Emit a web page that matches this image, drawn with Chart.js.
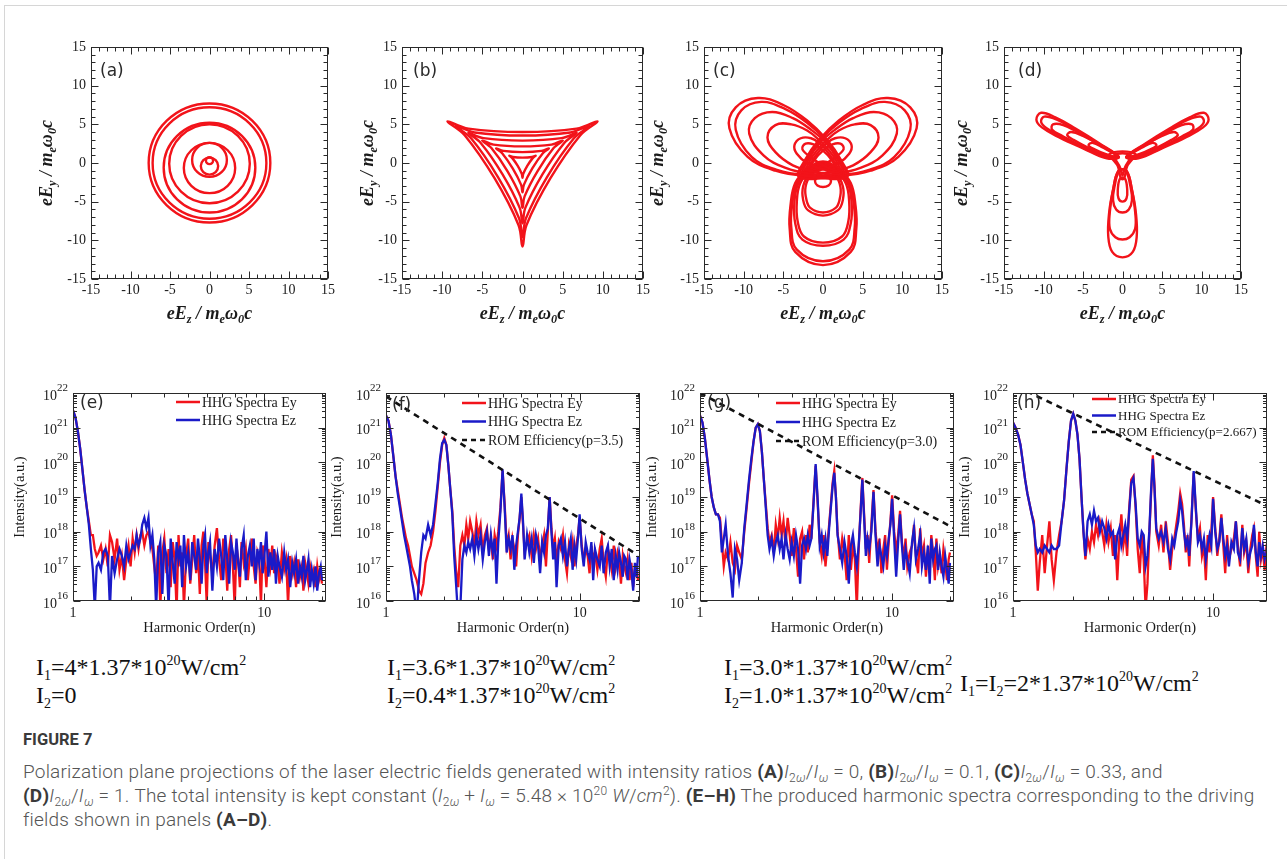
<!DOCTYPE html>
<html>
<head>
<meta charset="utf-8">
<script src="https://cdn.jsdelivr.net/npm/chart.js@4/dist/chart.umd.min.js"></script>
<style>
body{margin:0;background:#fff;width:1287px;height:859px;position:relative;overflow:hidden}
.frame{position:absolute;left:4px;top:5px;width:1290px;height:860px;border-left:1px solid #d6d6d6;border-top:1px solid #d6d6d6}
canvas{position:absolute}
.eq{position:absolute;font-family:"Liberation Serif","Times New Roman",serif;font-size:24px;color:#111;white-space:nowrap;line-height:28px}
.eq sub,.eq sup{font-size:14px;vertical-align:baseline;position:relative}
.eq sub{top:5px}
.eq sup{top:-10px}
.fig{position:absolute;left:23px;top:730px;font-family:Roboto,"Open Sans",sans-serif;font-weight:700;font-size:16.5px;color:#3a3a3a}
.cap{position:absolute;left:23px;font-family:Roboto,"Open Sans",sans-serif;font-weight:300;font-size:19px;letter-spacing:0.2px;color:#555;white-space:nowrap;line-height:24px}
.cap i{font-style:italic}
.cap sub{font-size:12px;vertical-align:baseline;position:relative;top:4px}
.cap sup{font-size:12px;vertical-align:baseline;position:relative;top:-7px}
.cap b{color:#3a3a3a;font-weight:700}
</style>
</head>
<body>
<div class="frame"></div>

<div class="eq" style="left:36px;top:653px">I<sub>1</sub>=4*1.37*10<sup>20</sup>W/cm<sup>2</sup></div>
<div class="eq" style="left:36px;top:681px">I<sub>2</sub>=0</div>
<div class="eq" style="left:387px;top:653px">I<sub>1</sub>=3.6*1.37*10<sup>20</sup>W/cm<sup>2</sup></div>
<div class="eq" style="left:387px;top:681px">I<sub>2</sub>=0.4*1.37*10<sup>20</sup>W/cm<sup>2</sup></div>
<div class="eq" style="left:724px;top:653px">I<sub>1</sub>=3.0*1.37*10<sup>20</sup>W/cm<sup>2</sup></div>
<div class="eq" style="left:724px;top:681px">I<sub>2</sub>=1.0*1.37*10<sup>20</sup>W/cm<sup>2</sup></div>
<div class="eq" style="left:960px;top:669px">I<sub>1</sub>=I<sub>2</sub>=2*1.37*10<sup>20</sup>W/cm<sup>2</sup></div>

<div class="fig">FIGURE 7</div>
<div class="cap" style="top:760px">Polarization plane projections of the laser electric fields generated with intensity ratios <b>(A)</b><i>I</i><sub>2<i>ω</i></sub>/<i>I</i><sub><i>ω</i></sub> = 0, <b>(B)</b><i>I</i><sub>2<i>ω</i></sub>/<i>I</i><sub><i>ω</i></sub> = 0.1, <b>(C)</b><i>I</i><sub>2<i>ω</i></sub>/<i>I</i><sub><i>ω</i></sub> = 0.33, and</div>
<div class="cap" style="top:784px"><b>(D)</b><i>I</i><sub>2<i>ω</i></sub>/<i>I</i><sub><i>ω</i></sub> = 1. The total intensity is kept constant (<i>I</i><sub>2<i>ω</i></sub> + <i>I</i><sub><i>ω</i></sub> = 5.48 × 10<sup>20</sup> <i>W</i>/<i>cm</i><sup>2</sup>). <b>(E–H)</b> The produced harmonic spectra corresponding to the driving</div>
<div class="cap" style="top:808px">fields shown in panels <b>(A–D)</b>.</div>

<script>
// tick values
const fieldTicks = [-15, -10, -5, 0, 5, 10, 15]
const orderTicks = [1, 10]
const intensityExp = [16, 17, 18, 19, 20, 21, 22]

// (a) field loops, flat x,y pairs
const loopsA = [
  [0,0.75, -0.32,0.62, -0.45,0.3, -0.32,-0.02, 0,-0.15, 0.32,-0.02, 0.45,0.3, 0.32,0.62],
  [0,0.7, -0.78,0.38, -1.1,-0.4, -0.78,-1.18, 0,-1.5, 0.78,-1.18, 1.1,-0.4, 0.78,0.38],
  [0,2.6, -1.56,1.96, -2.2,0.4, -1.56,-1.16, 0,-1.8, 1.56,-1.16, 2.2,0.4, 1.56,1.96],
  [0,2.6, -2.3,1.65, -3.25,-0.65, -2.3,-2.95, 0,-3.9, 2.3,-2.95, 3.25,-0.65, 2.3,1.65],
  [0,5.0, -3.6,3.5, -5.1,-0.1, -3.6,-3.7, 0,-5.2, 3.6,-3.7, 5.1,-0.1, 3.6,3.5],
  [0,5.2, -4.1,3.5, -5.8,-0.6, -4.1,-4.7, 0,-6.4, 4.1,-4.7, 5.8,-0.6, 4.1,3.5],
  [0,7.2, -5.09,5.09, -7.2,0, -5.09,-5.09, 0,-7.2, 5.09,-5.09, 7.2,0, 5.09,5.09],
  [0,7.7, -5.44,5.44, -7.7,0, -5.44,-5.44, 0,-7.7, 5.44,-5.44, 7.7,0, 5.44,5.44]
]

// (b)
const loopsB = [
  [9.35,5.4, 6.72,4.44, 0,4.0, -6.72,4.44, -9.35,5.4, -7.2,3.6, -3.46,-2.0, -0.49,-8.04, 0,-10.8, 0.49,-8.04, 3.46,-2.0, 7.2,3.6],
  [8.31,4.8, 5.97,3.95, 0,3.55, -5.97,3.95, -8.31,4.8, -6.4,3.2, -3.07,-1.78, -0.43,-7.14, 0,-9.6, 0.43,-7.14, 3.07,-1.78, 6.4,3.2],
  [6.75,3.9, 4.85,3.21, 0,2.89, -4.85,3.21, -6.75,3.9, -5.2,2.6, -2.5,-1.44, -0.35,-5.8, 0,-7.8, 0.35,-5.8, 2.5,-1.44, 5.2,2.6],
  [5.02,2.9, 3.61,2.38, 0,2.15, -3.61,2.38, -5.02,2.9, -3.87,1.93, -1.86,-1.07, -0.26,-4.32, 0,-5.8, 0.26,-4.32, 1.86,-1.07, 3.87,1.93],
  [3.29,1.9, 2.36,1.56, 0,1.41, -2.36,1.56, -3.29,1.9, -2.53,1.27, -1.22,-0.7, -0.17,-2.83, 0,-3.8, 0.17,-2.83, 1.22,-0.7, 2.53,1.27],
  [1.65,0.95, 1.18,0.78, 0,0.7, -1.18,0.78, -1.65,0.95, -1.27,0.63, -0.61,-0.35, -0.09,-1.41, 0,-1.9, 0.09,-1.41, 0.61,-0.35, 1.27,0.63]
]

// (c)
const loopsC = [
  [3.0,-1.8, -2,-1.7, -6,-1.0, -9.5,0.8, -11.8,4.5, -11,7.2, -8.2,8.4, -5,7.5, -2,5.5, 0.5,3.0, 2.2,0.5],
  [2.8,-1.7, -2,-1.6, -5.8,-0.9, -9.0,0.8, -11.0,4.3, -10.3,6.8, -7.8,7.9, -4.8,7.0, -2,5.2, 0.4,2.9, 2.0,0.5],
  [2.5,-1.6, -1.5,-1.4, -4.8,-0.6, -7.5,1.0, -9.3,3.8, -8.6,5.8, -6.4,6.6, -3.8,5.8, -1.5,4.3, 0.4,2.6, 1.8,0.5],
  [2.2,-1.4, -1.2,-1.1, -3.8,-0.3, -6.0,1.4, -7.0,3.3, -6.0,4.9, -4.0,5.0, -2.0,4.2, -0.4,2.9, 0.8,1.6, 1.7,0.2],
  [2.0,-1.2, 0,-0.8, -2.0,0, -3.3,1.2, -3.6,2.3, -2.8,3.2, -1.5,3.2, -0.4,2.5, 0.6,1.4, 1.4,0.2],
  [1.8,-1.0, 0,-0.3, -1.6,0.8, -2.6,1.8, -2.2,2.5, -1.2,2.4, 0,1.6, 1.0,0.5],
  [-3.0,-1.8, 2,-1.7, 6,-1.0, 9.5,0.8, 11.8,4.5, 11,7.2, 8.2,8.4, 5,7.5, 2,5.5, -0.5,3.0, -2.2,0.5],
  [-2.8,-1.7, 2,-1.6, 5.8,-0.9, 9.0,0.8, 11.0,4.3, 10.3,6.8, 7.8,7.9, 4.8,7.0, 2,5.2, -0.4,2.9, -2.0,0.5],
  [-2.5,-1.6, 1.5,-1.4, 4.8,-0.6, 7.5,1.0, 9.3,3.8, 8.6,5.8, 6.4,6.6, 3.8,5.8, 1.5,4.3, -0.4,2.6, -1.8,0.5],
  [-2.2,-1.4, 1.2,-1.1, 3.8,-0.3, 6.0,1.4, 7.0,3.3, 6.0,4.9, 4.0,5.0, 2.0,4.2, 0.4,2.9, -0.8,1.6, -1.7,0.2],
  [-2.0,-1.2, 0,-0.8, 2.0,0, 3.3,1.2, 3.6,2.3, 2.8,3.2, 1.5,3.2, 0.4,2.5, -0.6,1.4, -1.4,0.2],
  [-1.8,-1.0, 0,-0.3, 1.6,0.8, 2.6,1.8, 2.2,2.5, 1.2,2.4, 0,1.6, -1.0,0.5],
  [0,0.2, -2.0,-0.8, -3.5,-2.6, -4.1,-5.5, -4.2,-8.5, -3.5,-11.5, 0,-13.2, 3.5,-11.5, 4.2,-8.5, 4.1,-5.5, 3.5,-2.6, 2.0,-0.8],
  [0,0.0, -1.9,-0.9, -3.3,-2.6, -3.9,-5.5, -4.0,-8.3, -3.3,-11.2, 0,-12.7, 3.3,-11.2, 4.0,-8.3, 3.9,-5.5, 3.3,-2.6, 1.9,-0.9],
  [0,-0.2, -1.8,-1.0, -3.1,-2.6, -3.6,-5.0, -3.5,-7.8, -2.6,-9.9, 0,-10.7, 2.6,-9.9, 3.5,-7.8, 3.6,-5.0, 3.1,-2.6, 1.8,-1.0],
  [0,-0.4, -1.7,-1.1, -2.9,-2.7, -3.3,-5.0, -3.2,-7.5, -2.4,-9.5, 0,-10.3, 2.4,-9.5, 3.2,-7.5, 3.3,-5.0, 2.9,-2.7, 1.7,-1.1],
  [0,-0.6, -1.6,-1.3, -2.5,-3.0, -2.5,-4.8, -1.9,-6.1, 0,-6.8, 1.9,-6.1, 2.5,-4.8, 2.5,-3.0, 1.6,-1.3],
  [0,-0.8, -1.5,-1.5, -2.2,-3.1, -2.1,-4.7, -1.6,-5.8, 0,-6.4, 1.6,-5.8, 2.1,-4.7, 2.2,-3.1, 1.5,-1.5],
  [0,-1.3, -0.8,-1.8, -1.0,-2.4, -0.7,-2.9, 0,-3.1, 0.7,-2.9, 1.0,-2.4, 0.8,-1.8]
]

// (d)
const loopsD = [
  [-0.5,0.8, -3,2.6, -6,4.5, -8.5,5.9, -10.3,6.5, -10.9,5.6, -10.2,4.6, -8,3.3, -5,1.9, -2,0.6],
  [-0.5,0.8, -3,2.5, -6,4.3, -8.3,5.6, -9.9,6.0, -10.3,5.3, -9.6,4.5, -7.5,3.3, -4.8,1.9, -2,0.7],
  [-0.5,0.8, -3,2.4, -5.5,3.9, -7.5,4.9, -8.8,5.0, -8.9,4.3, -7.6,3.5, -5,2.1, -2,0.8],
  [-0.5,0.8, -2.8,2.3, -5.0,3.5, -6.5,4.0, -7.0,3.6, -6.2,3.0, -4.2,1.9, -2,0.9],
  [-0.5,0.8, -2.5,2.0, -3.8,2.6, -4.3,2.3, -3.6,1.8, -2,1.1],
  [0.5,0.8, 3,2.6, 6,4.5, 8.5,5.9, 10.3,6.5, 10.9,5.6, 10.2,4.6, 8,3.3, 5,1.9, 2,0.6],
  [0.5,0.8, 3,2.5, 6,4.3, 8.3,5.6, 9.9,6.0, 10.3,5.3, 9.6,4.5, 7.5,3.3, 4.8,1.9, 2,0.7],
  [0.5,0.8, 3,2.4, 5.5,3.9, 7.5,4.9, 8.8,5.0, 8.9,4.3, 7.6,3.5, 5,2.1, 2,0.8],
  [0.5,0.8, 2.8,2.3, 5.0,3.5, 6.5,4.0, 7.0,3.6, 6.2,3.0, 4.2,1.9, 2,0.9],
  [0.5,0.8, 2.5,2.0, 3.8,2.6, 4.3,2.3, 3.6,1.8, 2,1.1],
  [0.5,-1, 1.2,-3.5, 1.7,-6.5, 1.8,-9.5, 1.3,-11.5, 0,-12.2, -1.3,-11.5, -1.8,-9.5, -1.7,-6.5, -1.2,-3.5, -0.5,-1],
  [0.5,-1, 1.2,-3.5, 1.6,-6.3, 1.6,-8.5, 0.9,-9.6, 0,-9.9, -0.9,-9.6, -1.6,-8.5, -1.6,-6.3, -1.2,-3.5, -0.5,-1],
  [0.4,-1, 1.0,-3.0, 1.2,-4.8, 0.8,-6.0, 0,-6.4, -0.8,-6.0, -1.2,-4.8, -1.0,-3.0, -0.4,-1],
  [0.3,-2, 0.6,-3.5, 0.5,-4.6, 0,-5.0, -0.5,-4.6, -0.6,-3.5, -0.3,-2],
  [-1.6,1.2, 1.6,1.2, 0.6,-0.4, 0.2,-2.0, -0.2,-2.0, -0.6,-0.4],
  [-1.0,1.0, 1.0,1.0, 0.3,-0.6, 0,-1.6, -0.3,-0.6]
]

// harmonic order grid shared by all spectra
const orders = [
  1.0,1.03,1.06,1.09,1.12,1.15,1.18,1.21,1.24,1.27,
  1.3,1.33,1.36,1.4,1.44,1.48,1.52,1.56,1.6,1.65,
  1.7,1.75,1.8,1.85,1.9,1.95,2.0,2.05,2.1,2.15,
  2.2,2.25,2.3,2.36,2.42,2.48,2.54,2.6,2.66,2.72,
  2.79,2.86,2.93,3.0,3.08,3.16,3.24,3.32,3.4,3.48,
  3.56,3.64,3.72,3.8,3.9,4.0,4.1,4.2,4.3,4.4,
  4.5,4.6,4.7,4.8,4.9,5.0,5.1,5.2,5.35,5.5,
  5.65,5.8,5.95,6.1,6.25,6.4,6.55,6.7,6.85,7.0,
  7.15,7.3,7.45,7.6,7.8,8.0,8.2,8.4,8.6,8.8,
  9.0,9.2,9.4,9.6,9.8,10.0,10.25,10.5,10.75,11.0,
  11.25,11.5,11.75,12.0,12.35,12.7,13.0,13.3,13.65,14.0,
  14.3,14.65,15.0,15.35,15.7,16.0,16.35,16.7,17.0,17.35,
  17.7,18.1,18.5,18.9,19.3,19.7,20.0
]

// log10 of intensity, one value per order
const eEy = [
  21.5,21.3,20.9,20.4,19.8,19.2,18.7,18.3,17.9,17.9,
  17.5,17.3,17.4,17.6,17.2,17.5,17.0,17.9,17.7,17.2,
  17.8,16.9,17.3,16.6,17.2,17.6,17.0,17.8,17.4,17.9,
  17.5,17.9,18.0,17.6,17.9,18.0,17.7,17.5,17.0,16.5,
  17.6,15.8,17.4,17.8,16.8,17.5,16.4,17.7,17.2,15.7,
  17.9,17.0,17.4,15.8,17.3,17.8,16.5,17.2,17.9,16.8,
  17.4,16.2,17.6,18.0,17.1,15.9,17.7,17.3,16.8,17.6,
  18.1,17.2,16.6,17.8,17.4,16.3,17.5,17.9,17.0,15.8,
  17.6,17.2,16.4,17.7,17.1,17.5,16.6,17.3,17.8,17.0,
  16.5,17.4,17.2,15.9,17.6,17.3,16.4,17.5,17.0,17.6,
  16.8,17.3,17.1,16.5,17.4,16.9,17.2,15.9,17.3,16.8,
  17.1,16.4,17.2,16.7,17.0,16.3,17.1,16.8,16.5,17.0,
  16.7,16.9,16.4,17.0,16.6,16.8,16.5
]
const eEz = [
  21.5,21.3,20.9,20.4,19.8,19.2,18.7,18.2,17.5,16.9,
  15.8,17.0,17.1,16.9,17.4,17.5,17.3,15.8,17.3,16.8,
  17.2,17.5,17.3,17.0,17.6,17.2,17.4,17.6,17.5,17.9,
  17.6,17.8,18.2,18.4,18.1,18.4,17.6,17.9,17.2,15.8,
  17.4,17.7,16.2,17.6,17.3,15.8,17.8,17.1,16.5,17.7,
  17.2,17.6,16.4,17.9,17.0,17.4,16.6,17.7,17.3,16.9,
  17.8,17.2,16.5,17.6,17.9,16.8,17.4,17.7,16.3,17.5,
  17.0,17.8,17.3,16.6,17.9,17.2,16.5,17.7,17.4,16.9,
  17.8,17.1,16.7,17.5,17.9,16.6,17.3,17.6,17.0,17.8,
  16.6,17.5,17.1,17.7,16.8,17.3,18.0,16.7,17.4,16.9,
  17.5,16.5,17.3,17.0,16.7,17.4,16.9,17.2,16.4,17.1,
  16.8,17.2,16.5,17.0,16.7,17.3,16.6,16.9,17.2,16.4,
  16.9,16.5,17.0,16.3,16.8,17.0,16.6
]
const fEy = [
  21.35,21.2,20.8,20.2,19.6,19.2,18.8,18.4,18.1,17.8,
  17.6,17.3,17.0,16.8,16.6,16.3,16.2,16.5,17.1,17.4,
  17.6,18.0,18.6,19.3,20.0,20.5,20.7,20.5,19.9,19.2,
  18.6,17.6,16.9,16.4,17.6,17.9,17.6,18.2,17.8,18.3,
  18.0,17.6,18.3,17.9,18.2,17.4,17.9,18.1,17.5,17.8,
  17.2,17.9,17.6,18.0,18.7,19.75,18.8,17.6,17.9,17.2,
  17.8,17.5,17.0,17.9,18.4,19.0,18.2,17.4,17.7,17.9,
  17.3,17.9,17.5,17.8,17.2,17.6,17.9,17.0,18.0,19.0,
  18.1,17.5,17.8,17.1,17.7,17.5,17.9,17.2,16.8,17.6,
  17.3,17.7,17.0,17.6,17.9,18.4,17.6,17.2,17.5,17.3,
  16.8,17.6,17.2,17.4,16.9,17.5,17.8,17.1,16.7,17.5,
  17.3,16.9,17.6,17.0,17.4,17.2,16.5,17.3,17.0,16.8,
  17.2,16.6,17.1,16.4,16.9,17.0,16.6
]
const fEz = [
  21.35,21.2,20.8,20.2,19.6,19.1,18.7,18.3,17.9,17.6,
  17.3,17.0,16.6,16.2,15.6,16.6,17.4,17.9,17.8,18.2,
  17.9,18.2,18.8,19.4,20.1,20.55,20.65,20.5,19.9,19.2,
  18.5,17.3,16.5,15.5,15.8,17.2,17.6,17.4,17.7,17.5,
  17.8,17.3,17.9,17.5,17.9,17.2,17.7,18.0,17.3,17.9,
  17.4,17.8,16.5,17.7,18.6,19.8,18.7,17.4,17.8,17.5,
  17.9,16.9,17.6,18.0,18.4,19.1,18.3,17.2,17.9,17.4,
  17.8,17.1,17.9,17.6,16.8,17.7,17.4,17.9,18.1,19.0,
  18.0,17.2,17.7,16.4,17.6,17.8,17.3,17.7,17.0,17.5,
  17.8,16.9,17.6,17.2,17.8,18.5,17.5,17.0,17.7,17.4,
  17.2,17.7,16.6,17.5,17.2,17.0,17.6,16.8,17.4,17.6,
  17.0,17.5,16.6,17.3,16.9,17.4,17.1,16.7,17.3,17.2,
  16.6,17.2,16.9,16.3,17.1,16.7,17.3
]
const gEy = [
  21.35,21.15,20.7,20.1,19.5,19.0,18.7,18.5,18.5,18.4,
  17.7,17.0,17.4,17.2,17.7,17.1,16.9,17.6,17.4,17.2,
  18.0,18.7,19.4,20.0,20.6,21.0,21.1,20.9,20.3,19.5,
  18.8,18.1,17.7,17.9,17.4,18.2,17.8,18.4,17.9,18.3,
  17.6,18.4,17.9,17.3,18.1,17.5,16.7,17.8,18.0,17.2,
  17.9,17.4,18.2,17.8,18.9,19.9,18.8,17.7,17.3,17.9,
  17.0,17.6,18.2,18.8,19.4,19.75,19.0,18.0,17.2,17.8,
  17.4,16.6,17.9,16.9,17.6,17.2,15.8,17.5,18.6,19.55,
  18.5,17.5,17.9,17.1,18.2,19.2,18.0,17.4,17.8,16.8,
  17.5,17.9,16.9,17.7,18.3,19.05,18.0,17.4,17.9,18.6,
  17.7,17.2,17.8,17.0,17.4,17.6,18.2,17.3,16.8,18.1,
  17.3,17.6,16.7,17.4,17.1,17.9,17.4,16.6,17.8,17.0,
  17.3,16.8,17.5,17.1,16.6,17.2,17.4
]
const gEz = [
  21.35,21.15,20.7,20.1,19.5,19.0,18.7,18.5,18.5,18.3,
  17.4,17.8,18.2,17.3,16.8,16.1,17.5,17.2,16.6,17.1,
  18.1,18.8,19.5,20.1,20.6,21.0,21.1,20.9,20.3,19.5,
  18.7,17.9,17.5,17.8,17.3,17.7,17.9,17.5,17.8,17.2,
  17.9,17.5,17.2,17.7,17.3,17.9,17.5,16.5,17.6,17.8,
  17.5,17.9,17.6,17.8,18.8,19.95,18.9,17.6,17.9,17.4,
  17.8,17.3,18.1,18.7,19.3,19.7,19.0,17.9,17.5,17.1,
  17.7,17.3,16.5,17.6,17.9,17.4,17.0,17.6,18.5,19.5,
  18.4,17.3,17.8,17.5,18.0,19.15,17.9,17.0,17.6,17.3,
  17.0,17.6,17.3,17.8,18.2,18.95,17.8,16.7,17.7,18.5,
  17.6,16.9,17.5,17.2,16.8,17.7,18.1,17.2,17.5,17.9,
  17.0,17.4,16.9,17.6,16.5,17.8,17.2,17.5,17.6,16.9,
  17.4,17.0,16.7,17.3,16.9,16.5,17.1
]
const hEy = [
  21.15,21.0,20.8,20.5,20.0,19.5,19.1,18.8,18.5,18.3,
  17.4,16.3,17.1,17.9,16.8,17.6,18.3,17.2,16.6,17.4,
  17.9,18.3,18.9,19.8,20.6,21.2,21.4,21.2,20.8,20.1,
  19.0,18.0,17.2,17.8,17.5,18.0,17.7,18.2,17.9,18.3,
  18.0,17.6,18.2,17.7,18.1,17.3,17.9,16.6,17.8,18.5,
  17.6,18.0,17.3,18.6,19.5,19.6,18.7,17.5,16.8,17.9,
  17.2,15.8,16.5,17.9,19.1,20.2,19.3,18.0,17.6,18.2,
  17.4,18.3,17.7,16.9,17.5,17.8,18.2,18.6,19.1,18.8,
  18.2,17.4,17.9,17.0,18.4,19.7,18.6,17.8,18.1,17.3,
  17.6,16.6,17.9,17.4,18.0,19.0,18.1,17.3,17.8,18.5,
  17.6,16.8,17.9,17.2,17.5,17.8,18.3,17.6,17.0,18.2,
  17.4,17.7,16.8,17.5,17.9,18.1,17.3,16.7,18.0,17.2,
  17.5,16.9,17.6,17.8,16.7,17.4,17.2
]
const hEz = [
  21.15,21.0,20.8,20.5,20.0,19.5,19.1,18.8,18.5,18.2,
  17.6,17.4,17.5,17.4,17.6,17.5,17.4,17.6,17.5,17.5,
  17.6,18.3,18.9,19.8,20.6,21.2,21.4,21.2,20.8,20.1,
  19.0,18.0,17.3,18.3,18.5,18.2,18.6,18.3,18.4,18.0,
  18.3,18.1,17.8,18.2,17.9,18.0,17.2,17.9,18.1,17.6,
  17.9,18.2,17.8,18.5,19.4,19.55,18.8,17.8,17.6,18.0,
  17.9,17.0,17.3,18.0,19.2,20.1,19.2,18.1,17.8,18.0,
  17.7,18.1,17.5,17.2,17.8,17.6,18.0,18.3,18.9,18.6,
  18.0,17.6,17.8,17.3,18.3,19.75,18.7,17.7,17.9,17.5,
  17.8,17.2,17.6,17.9,17.6,18.95,18.0,17.5,17.7,18.4,
  17.8,17.3,17.6,17.0,17.7,17.5,18.3,17.4,17.2,18.1,
  17.5,17.8,17.1,17.4,17.6,18.2,17.4,17.0,17.7,17.3,
  17.6,17.2,17.4,17.9,16.9,17.5,17.0
]

// ROM efficiency lines: [n1, log I1, n2, log I2]
const romF = [1, 21.9, 19, 17.4]
const romG = [1, 22.0, 21, 18.1]
const romH = [1.17, 22.05, 18.5, 18.75]

const RED = '#f2131a'
const BLUE = '#1a1ac8'
const decorCfg = {}

function place(id, plot, pad) {
  const c = document.createElement('canvas')
  c.id = id
  const w = plot[2] - plot[0] + pad[0] + pad[2]
  const h = plot[3] - plot[1] + pad[1] + pad[3]
  c.width = w
  c.height = h
  c.style.left = (plot[0] - pad[0]) + 'px'
  c.style.top = (plot[1] - pad[1]) + 'px'
  c.style.width = w + 'px'
  c.style.height = h + 'px'
  document.body.appendChild(c)
  return c
}

function baseOptions(pad, xs, ys) {
  return {
    responsive: false,
    animation: false,
    events: [],
    layout: {padding: {left: pad[0], top: pad[1], right: pad[2], bottom: pad[3]}},
    scales: {x: Object.assign({display: false}, xs), y: Object.assign({display: false}, ys)},
    plugins: {legend: {display: false}, tooltip: {enabled: false}}
  }
}

// closed loop: lead-in and lead-out points keep the spline smooth at the seam,
// the two outer segments are left transparent
function loopPoints(flat) {
  const pts = []
  for (let i = 0; i < flat.length; i += 2) pts.push({x: flat[i], y: flat[i + 1]})
  return [pts[pts.length - 1]].concat(pts, [pts[0], pts[1]])
}

function specPoints(ys) {
  return orders.map((n, i) => ({x: n, y: Math.pow(10, ys[i])}))
}

function drawRich(ctx, parts, x, y, size, style) {
  let w = 0
  const fonts = parts.map(p => style + ' ' + (p[1] ? size * 0.68 : size) + 'px "Liberation Serif"')
  parts.forEach((p, i) => { ctx.font = fonts[i]; w += ctx.measureText(p[0]).width })
  let cx = x - w / 2
  ctx.textAlign = 'left'
  parts.forEach((p, i) => {
    ctx.font = fonts[i]
    const dy = p[1] === 1 ? size * 0.32 : (p[1] === 2 ? -size * 0.4 : 0)
    ctx.fillText(p[0], cx, y + dy)
    cx += ctx.measureText(p[0]).width
  })
}

const decor = {
  id: 'decor',
  afterDraw(chart) {
    const o = decorCfg[chart.canvas.id]
    if (!o) return
    const ctx = chart.ctx, a = chart.chartArea, sx = chart.scales.x, sy = chart.scales.y
    const L = Math.round(a.left) + 0.5, R = Math.round(a.right) - 0.5
    const T = Math.round(a.top) + 0.5, B = Math.round(a.bottom) - 0.5
    ctx.save()
    ctx.strokeStyle = '#2a2a2a'
    ctx.lineWidth = 1
    ctx.setLineDash([])
    ctx.strokeRect(L, T, R - L, B - T)
    ctx.beginPath()
    const tx = (v, len) => { const p = Math.round(sx.getPixelForValue(v)) + 0.5; ctx.moveTo(p, B); ctx.lineTo(p, B - len); ctx.moveTo(p, T); ctx.lineTo(p, T + len) }
    const ty = (v, len) => { const p = Math.round(sy.getPixelForValue(v)) + 0.5; ctx.moveTo(L, p); ctx.lineTo(L + len, p); ctx.moveTo(R, p); ctx.lineTo(R - len, p) }
    let xMajor, yMajor
    if (o.kind === 'field') {
      xMajor = fieldTicks
      yMajor = fieldTicks
      for (let v = -14; v <= 14; v++) {
        if (v % 5 !== 0) { tx(v, 4); ty(v, 4) }
      }
    } else {
      xMajor = orderTicks
      yMajor = intensityExp.map(e => Math.pow(10, e))
      for (let k = 2; k <= 20; k++) {
        if (k !== 10 && (k < 10 || k === 20) && k <= sx.max) tx(k, 4)
      }
      for (let e = 16; e < 22; e++) {
        for (let k = 2; k <= 9; k++) ty(k * Math.pow(10, e), 3.5)
      }
    }
    xMajor.forEach(v => tx(v, 7))
    yMajor.forEach(v => ty(v, 7))
    ctx.stroke()

    ctx.fillStyle = '#1a1a1a'
    ctx.textBaseline = 'middle'
    if (o.kind === 'field') {
      ctx.font = '14px "Liberation Serif"'
      ctx.textAlign = 'center'
      xMajor.forEach(v => ctx.fillText(String(v), sx.getPixelForValue(v), a.bottom + 11))
      ctx.textAlign = 'right'
      yMajor.forEach(v => ctx.fillText(String(v), a.left - 5, sy.getPixelForValue(v)))
      const cxm = (a.left + a.right) / 2
      drawRich(ctx, [['eE', 0], ['z', 1], [' / m', 0], ['e', 1], ['ω', 0], ['0', 1], ['c', 0]], cxm, a.bottom + 35, 18, 'italic bold')
      ctx.save()
      ctx.translate(a.left - o.yGap, (a.top + a.bottom) / 2)
      ctx.rotate(-Math.PI / 2)
      drawRich(ctx, [['eE', 0], ['y', 1], [' / m', 0], ['e', 1], ['ω', 0], ['0', 1], ['c', 0]], 0, 0, 18, 'italic bold')
      ctx.restore()
    } else {
      ctx.font = '14px "Liberation Serif"'
      ctx.textAlign = 'center'
      xMajor.forEach(v => ctx.fillText(String(v), sx.getPixelForValue(v), a.bottom + 12))
      intensityExp.forEach(e => {
        const p = sy.getPixelForValue(Math.pow(10, e))
        ctx.textAlign = 'right'
        ctx.font = '11px "Liberation Serif"'
        const ew = ctx.measureText(String(e)).width
        ctx.fillText(String(e), a.left - 5, p - 5)
        ctx.font = '14px "Liberation Serif"'
        ctx.fillText('10', a.left - 5 - ew, p + 3)
      })
      ctx.textAlign = 'center'
      ctx.font = '14.5px "Liberation Serif"'
      ctx.fillText('Harmonic Order(n)', (a.left + a.right) / 2, a.bottom + 27)
      ctx.save()
      ctx.translate(a.left - o.yGap, (a.top + a.bottom) / 2)
      ctx.rotate(-Math.PI / 2)
      ctx.fillText('Intensity(a.u.)', 0, 0)
      ctx.restore()
      // legend
      ctx.textAlign = 'left'
      ctx.font = o.legendSize + 'px "Liberation Serif"'
      o.legend.forEach((item, i) => {
        const y = a.top + o.legendTop + i * o.legendStep
        const x = a.right - o.legendX
        ctx.strokeStyle = item[1]
        ctx.lineWidth = 2.5
        ctx.setLineDash(item[2] ? [5, 4] : [])
        ctx.beginPath()
        ctx.moveTo(x - 26, y)
        ctx.lineTo(x - 2, y)
        ctx.stroke()
        ctx.fillStyle = '#1a1a1a'
        ctx.fillText(item[0], x, y + 1)
      })
      ctx.setLineDash([])
    }
    // panel label
    ctx.fillStyle = '#2a2a2a'
    ctx.textAlign = 'left'
    ctx.font = '17px "DejaVu Sans"'
    ctx.fillText(o.label, a.left + o.labelPos[0], a.top + o.labelPos[1])
    ctx.restore()
  }
}
Chart.register(decor)

function fieldPanel(id, plot, loops, cfg) {
  const pad = [80, 14, 14, 50]
  const c = place(id, plot, pad)
  decorCfg[id] = Object.assign({kind: 'field'}, cfg)
  new Chart(c, {
    type: 'line',
    data: {
      datasets: loops.map(l => {
        const pts = loopPoints(l)
        const last = pts.length - 2
        return {
          data: pts, borderColor: RED, borderWidth: 2.4,
          pointRadius: 0, tension: 0.4, fill: false,
          segment: {borderColor: s => (s.p0DataIndex === 0 || s.p0DataIndex === last) ? 'rgba(0,0,0,0)' : undefined}
        }
      })
    },
    options: baseOptions(pad, {type: 'linear', min: -15, max: 15}, {type: 'linear', min: -15, max: 15})
  })
}

function specPanel(id, plot, ey, ez, rom, xmax, cfg) {
  const pad = [70, 14, 14, 42]
  const c = place(id, plot, pad)
  decorCfg[id] = Object.assign({kind: 'spec'}, cfg)
  const datasets = []
  if (rom) {
    datasets.push({
      data: [{x: rom[0], y: Math.pow(10, rom[1])}, {x: rom[2], y: Math.pow(10, rom[3])}],
      borderColor: '#111', borderWidth: 2.6, borderDash: [6, 5], pointRadius: 0, fill: false
    })
  }
  datasets.push({data: specPoints(ez), borderColor: BLUE, borderWidth: 2.3, pointRadius: 0, fill: false})
  datasets.push({data: specPoints(ey), borderColor: RED, borderWidth: 2.3, pointRadius: 0, fill: false})
  new Chart(c, {
    type: 'line',
    data: {datasets},
    options: baseOptions(pad, {type: 'logarithmic', min: 1, max: xmax}, {type: 'logarithmic', min: 1e16, max: 1e22})
  })
}

fieldPanel('pa', [91, 47, 328, 279], loopsA, {label: '(a)', labelPos: [9, 25], yGap: 44})
fieldPanel('pb', [402, 47, 643, 279], loopsB, {label: '(b)', labelPos: [11, 25], yGap: 34})
fieldPanel('pc', [704, 47, 942, 279], loopsC, {label: '(c)', labelPos: [9, 25], yGap: 46})
fieldPanel('pd', [1004, 47, 1241, 279], loopsD, {label: '(d)', labelPos: [14, 25], yGap: 42})

const legendTwo = [['HHG Spectra Ey', RED, false], ['HHG Spectra Ez', BLUE, false]]
specPanel('pe', [73, 393, 326, 601], eEy, eEz, null, 21,
  {label: '(e)', labelPos: [7, 11], yGap: 53, legend: legendTwo, legendX: 124, legendTop: 9, legendStep: 18, legendSize: 14})
specPanel('pf', [386, 393, 640, 601], fEy, fEz, romF, 20.5,
  {label: '(f)', labelPos: [6, 13], yGap: 49, legend: legendTwo.concat([['ROM Efficiency(p=3.5)', '#111', true]]), legendX: 152, legendTop: 10, legendStep: 18.5, legendSize: 14})
specPanel('pg', [700, 393, 954, 601], gEy, gEz, romG, 21,
  {label: '(g)', labelPos: [7, 11], yGap: 48, legend: legendTwo.concat([['ROM Efficiency(p=3.0)', '#111', true]]), legendX: 152, legendTop: 10, legendStep: 19, legendSize: 14})
specPanel('ph', [1013, 393, 1267, 601], hEy, hEz, romH, 18.6,
  {label: '(h)', labelPos: [4, 11], yGap: 48, legend: legendTwo.concat([['ROM Efficiency(p=2.667)', '#111', true]]), legendX: 149, legendTop: 6, legendStep: 16.5, legendSize: 13})
</script>
</body>
</html>
